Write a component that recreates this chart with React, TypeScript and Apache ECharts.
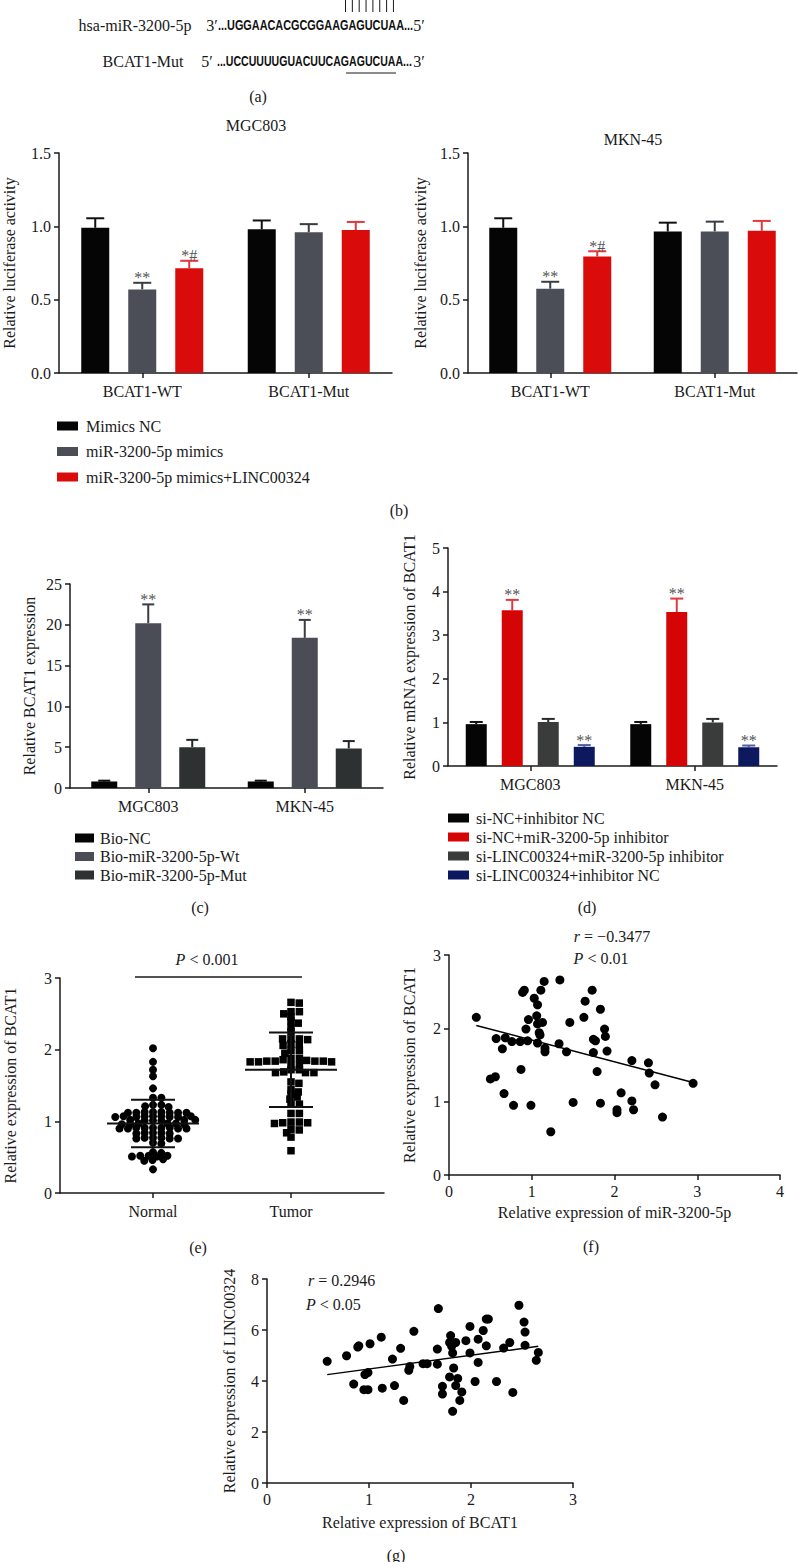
import React, { useEffect, useRef } from 'react';
import * as echarts from 'echarts';

const SERIF = "'Liberation Serif','Times New Roman',serif";
const SANS = "'Liberation Sans',Arial,sans-serif";
const INK = '#1a1a1a';

// ---------- data ----------
const bCats = ['BCAT1-WT', 'BCAT1-Mut'];
const bGroups = ['Mimics NC', 'miR-3200-5p mimics', 'miR-3200-5p mimics+LINC00324'];
const b1Vals = [[0.99, 0.98], [0.57, 0.96], [0.715, 0.975]];
const b1Err = [[1.055, 1.04], [0.615, 1.015], [0.765, 1.03]];
const b2Vals = [[0.99, 0.965], [0.575, 0.965], [0.795, 0.97]];
const b2Err = [[1.055, 1.025], [0.622, 1.032], [0.83, 1.037]];
const bSig = [['', ''], ['**', ''], ['*#', '']];

const cCats = ['MGC803', 'MKN-45'];
const cGroups = ['Bio-NC', 'Bio-miR-3200-5p-Wt', 'Bio-miR-3200-5p-Mut'];
const cVals = [[0.8, 0.8], [20.2, 18.4], [5.0, 4.85]];
const cErr = [[0.9, 0.9], [22.5, 20.6], [5.9, 5.75]];
const cSig = [['', ''], ['**', '**'], ['', '']];

const dCats = ['MGC803', 'MKN-45'];
const dGroups = ['si-NC+inhibitor NC', 'si-NC+miR-3200-5p inhibitor', 'si-LINC00324+miR-3200-5p inhibitor', 'si-LINC00324+inhibitor NC'];
const dVals = [[0.96, 0.96], [3.57, 3.53], [1.01, 1.0], [0.44, 0.43]];
const dErr = [[1.01, 1.01], [3.81, 3.84], [1.08, 1.08], [0.48, 0.47]];
const dSig = [['', ''], ['**', '**'], ['', ''], ['**', '**']];

const eCats = ['Normal', 'Tumor'];
const normalVals = [2.02, 1.83, 1.72, 1.63, 1.46, 1.33, 1.33, 1.23, 1.23, 1.20, 1.21,
  1.13, 1.12, 1.12, 1.12, 1.13, 1.12, 1.12, 1.13,
  1.07, 1.06, 1.07, 1.06, 1.07, 1.06, 1.07, 1.06, 1.07,
  1.01, 1.02, 1.01, 1.02, 1.01, 1.02,
  0.96, 0.97, 0.96, 0.97, 0.96, 0.97,
  0.91, 0.90, 0.91, 0.90, 0.91, 0.90, 0.91, 0.90, 0.91,
  0.84, 0.83, 0.84, 0.83, 0.84,
  0.76, 0.77, 0.76, 0.77, 0.76, 0.77,
  0.70, 0.69, 0.56, 0.57, 0.52, 0.51, 0.52, 0.51, 0.52, 0.46, 0.47, 0.45, 0.33];
const tumorVals = [2.65, 2.66, 2.53, 2.53, 2.50, 2.46, 2.40, 2.37, 2.31, 2.25,
  2.15, 2.15, 2.14, 2.15, 2.08, 2.07, 2.06, 1.99, 1.99, 1.95,
  1.88, 1.86, 1.84, 1.84, 1.83, 1.83, 1.83, 1.84, 1.84, 1.85, 1.88,
  1.78, 1.78, 1.72, 1.68, 1.68, 1.69, 1.68, 1.72, 1.55, 1.53,
  1.44, 1.41, 1.38, 1.34, 1.31, 1.24, 1.24, 1.11, 1.11,
  0.99, 0.98, 0.97, 0.98, 0.99, 0.89, 0.88, 0.84, 0.78, 0.59];
const eMeans = [0.97, 1.72];
const eSds = [0.33, 0.52];

const fX = [0.33, 0.50, 0.56, 0.57, 0.68, 0.645, 0.665, 0.78, 0.76, 0.86, 0.95, 0.87, 0.89, 0.91, 0.96, 0.93, 0.99, 1.03, 1.06, 1.07, 1.07, 1.09, 1.10, 1.07, 1.11, 1.15, 1.13, 1.16, 1.16, 1.23, 1.34, 1.33, 1.46, 1.42, 1.50, 1.63, 1.645, 1.73, 1.745, 1.77, 1.745, 1.79, 1.83, 1.83, 1.88, 1.89, 1.91, 2.03, 2.03, 2.08, 2.21, 2.21, 2.23, 2.41, 2.42, 2.49, 2.58, 2.95];
const fY = [2.15, 1.31, 1.34, 1.86, 1.87, 1.72, 1.11, 0.95, 1.82, 1.82, 1.83, 1.44, 2.49, 2.52, 2.12, 1.99, 0.95, 2.41, 2.17, 2.32, 2.06, 1.94, 1.91, 1.80, 2.52, 2.64, 2.08, 1.73, 1.68, 0.59, 2.66, 1.79, 2.08, 1.68, 0.99, 2.15, 2.37, 2.52, 1.85, 1.83, 1.67, 1.41, 2.26, 0.98, 1.99, 1.89, 1.69, 0.89, 0.85, 1.12, 1.56, 1.01, 0.89, 1.53, 1.39, 1.23, 0.79, 1.25];
const fFit = [[0.33, 2.04], [2.95, 1.26]];

const gX = [0.59, 0.78, 0.89, 0.90, 1.01, 1.12, 0.85, 0.95, 0.99, 0.96, 0.99, 1.13, 1.23, 1.25, 1.31, 1.34, 1.39, 1.40, 1.44, 1.53, 1.57, 1.68, 1.67, 1.67, 1.72, 1.72, 1.80, 1.79, 1.81, 1.82, 1.85, 1.83, 1.79, 1.87, 1.85, 1.82, 1.91, 1.89, 1.95, 1.99, 1.99, 2.07, 2.07, 2.04, 2.12, 2.15, 2.17, 2.15, 2.25, 2.32, 2.38, 2.41, 2.47, 2.52, 2.53, 2.53, 2.64, 2.66];
const gY = [4.77, 4.99, 5.33, 5.38, 5.46, 5.72, 3.88, 3.66, 3.66, 4.25, 4.33, 3.72, 4.86, 3.82, 5.28, 3.24, 4.42, 4.57, 5.95, 4.68, 4.68, 6.84, 5.25, 4.66, 3.79, 3.49, 5.78, 5.51, 5.36, 5.10, 5.51, 4.51, 4.16, 4.10, 3.82, 2.81, 3.57, 3.24, 5.58, 6.14, 5.10, 5.64, 4.73, 3.98, 5.98, 6.43, 6.43, 5.38, 3.98, 5.29, 5.51, 3.55, 6.97, 6.31, 5.92, 5.40, 4.81, 5.12];
const gFit = [[0.59, 4.25], [2.66, 5.36]];

// ---------- layout / style ----------
const grids = [
  { left: 57, top: 153, width: 335, height: 220 },
  { left: 468, top: 153, width: 329, height: 220 },
  { left: 70, top: 584, width: 313, height: 204 },
  { left: 448, top: 548, width: 329, height: 218 },
  { left: 60, top: 978, width: 324, height: 215 },
  { left: 449, top: 955, width: 331, height: 220 },
  { left: 267, top: 1279, width: 306, height: 204 },
];
const E_XMIN = 0.326, E_XMAX = 2.674;

const bColors = ['#050505', '#4b4e56', '#d90b0b'];
const bErrColors = ['#111111', '#3a3c42', '#e0383c'];
const cColors = ['#050505', '#4a4d55', '#2d3132'];
const dColors = ['#050505', '#d50505', '#3a3b3b', '#0c195e'];
const dErrColors = ['#111111', '#e0383c', '#2a2a2a', '#5060a0'];

const axisLine = { show: true, lineStyle: { color: INK, width: 1.5 } };
const axisTick = { show: true, length: 5, lineStyle: { color: INK, width: 1.5 } };
const lbl = { fontFamily: SERIF, fontSize: 16, color: INK };

function yAx(gi: number, min: number, max: number, interval: number, name: string, nameGap: number, dec = 0) {
  return {
    gridIndex: gi, type: 'value', min, max, interval, name, nameLocation: 'middle', nameGap,
    nameTextStyle: { ...lbl }, axisLine, axisTick,
    axisLabel: { ...lbl, margin: 8, formatter: (v: number) => v.toFixed(dec) },
    splitLine: { show: false },
  };
}
function xCat(gi: number, data: string[]) {
  return {
    gridIndex: gi, type: 'category', data, axisLine,
    axisTick: { ...axisTick, alignWithLabel: true },
    axisLabel: { ...lbl, margin: 10 }, splitLine: { show: false },
  };
}
function xVal(gi: number, min: number, max: number, interval: number, name: string, nameGap: number) {
  return {
    gridIndex: gi, type: 'value', min, max, interval, name, nameLocation: 'middle', nameGap,
    nameTextStyle: { ...lbl }, axisLine, axisTick,
    axisLabel: { ...lbl, margin: 8 }, splitLine: { show: false },
  };
}

function barGroup(ai: number, names: string[], vals: number[][], colors: string[], bw: number, gapPx: number) {
  return names.map((n, i) => ({
    type: 'bar', name: n, xAxisIndex: ai, yAxisIndex: ai, data: vals[i], barWidth: bw,
    barGap: `${(gapPx / bw) * 100}%`, itemStyle: { color: colors[i] }, z: 3, silent: true,
  }));
}
function errGroup(ai: number, vals: number[][], errs: number[][], sig: string[][], colors: string[], bw: number, gapPx: number, capHalf: number) {
  const n = vals.length;
  return vals.map((v, i) => {
    const off = (i - (n - 1) / 2) * (bw + gapPx);
    return {
      type: 'custom', xAxisIndex: ai, yAxisIndex: ai, z: 1, silent: true,
      data: v.map((val, j) => [j, val, errs[i][j]]),
      renderItem: (params: any, api: any) => {
        const j = params.dataIndex;
        const base = api.coord([j, v[j]]);
        const top = api.coord([j, errs[i][j]]);
        const x = base[0] + off;
        const children: any[] = [
          { type: 'line', shape: { x1: x, y1: base[1], x2: x, y2: top[1] }, style: { stroke: colors[i], lineWidth: 2 } },
          { type: 'line', shape: { x1: x - capHalf, y1: top[1], x2: x + capHalf, y2: top[1] }, style: { stroke: colors[i], lineWidth: 2 } },
        ];
        if (sig[i][j]) {
          children.push({ type: 'text', z2: 10, style: { text: sig[i][j], x, y: top[1] - 5, align: 'center', verticalAlign: 'middle', fontFamily: SERIF, fontSize: 16, fill: '#555' } });
        }
        return { type: 'group', children };
      },
    };
  });
}

// beeswarm layout: horizontal spacing dxMin, rows closer than dyMin are staggered
function swarm(values: number[], center: number, pxX: number, pxY: number, dxMin: number, dyMin: number) {
  const placed: { x: number; y: number }[] = [];
  const out: number[][] = [];
  const order = values.map((_, i) => i).sort((a, b) => values[b] - values[a]);
  const hit = (p: { x: number; y: number }, x: number, y: number) =>
    ((p.x - x) / dxMin) ** 2 + ((p.y - y) / dyMin) ** 2 < 0.999;
  for (const i of order) {
    const y = values[i] * pxY;
    const cands = [0];
    for (const p of placed) {
      const dy = Math.abs(p.y - y);
      if (dy < dyMin) {
        const dx = dxMin * Math.sqrt(1 - (dy / dyMin) ** 2);
        cands.push(p.x + dx, p.x - dx);
      }
    }
    cands.sort((a, b) => Math.abs(a) - Math.abs(b));
    let chosen = 0;
    for (const c of cands) {
      if (!placed.some(p => hit(p, c, y))) { chosen = c; break; }
    }
    placed.push({ x: chosen, y });
    out.push([center + chosen / pxX, values[i]]);
  }
  return out;
}

function txt(text: string, x: number, y: number, extra: any = {}, el: any = {}) {
  return {
    type: 'text', x, y, ...el,
    style: {
      text, x: 0, y: 0, fill: INK, fontFamily: SERIF, fontSize: 16,
      align: 'center', verticalAlign: 'middle', textAlign: 'center', textVerticalAlign: 'middle', ...extra,
    },
  };
}
const italicRich = { i: { fontStyle: 'italic', fontFamily: SERIF, fontSize: 16, fill: INK } };
function hline(x1: number, x2: number, y: number, w = 1.5) {
  return { type: 'line', shape: { x1, y1: y, x2, y2: y }, style: { stroke: INK, lineWidth: w } };
}

function legendAt(data: string[], left: number, top: number, iw: number, ih: number, gap: number, pad: number) {
  return {
    data, left, top, orient: 'vertical', itemWidth: iw, itemHeight: ih, itemGap: gap, padding: 0,
    icon: 'rect', selectedMode: false,
    textStyle: { fontFamily: SERIF, fontSize: 16, color: INK, lineHeight: 16, padding: [0, 0, 0, pad] },
  };
}

export default function App() {
  const ref = useRef<HTMLDivElement>(null);
  useEffect(() => {
    if (!ref.current) return;
    const chart = echarts.init(ref.current, undefined, { renderer: 'svg' });

    const eg = grids[4];
    const pxX = eg.width / (E_XMAX - E_XMIN);
    const pxY = eg.height / 3;
    const normalPts = swarm(normalVals, 1, pxX, pxY, 8.4, 4.2);
    const tumorPts = swarm(tumorVals, 2, pxX, pxY, 8.4, 4.2);

    const graphics: any[] = [];
    // panel (a)
    for (let k = 0; k < 8; k++) {
      const x = 345.5 + k * 6.85;
      graphics.push({ type: 'line', shape: { x1: x, y1: 0, x2: x, y2: 12 }, style: { stroke: INK, lineWidth: 1 } });
    }
    graphics.push(txt('hsa-miR-3200-5p', 135, 25));
    graphics.push(txt('3\u2032', 212, 25));
    graphics.push(txt('...UGGAACACGCGGAAGAGUCUAA...', 218, 25,
      { fontFamily: SANS, fontWeight: 'bold', fontSize: 15, align: 'left', textAlign: 'left', fill: '#111' }, { scaleX: 0.725 }));
    graphics.push(txt('5\u2032', 419, 25));
    graphics.push(txt('BCAT1-Mut', 143, 61));
    graphics.push(txt('5\u2032', 207, 61));
    graphics.push(txt('...UCCUUUUGUACUUCAGAGUCUAA...', 217, 61,
      { fontFamily: SANS, fontWeight: 'bold', fontSize: 15, align: 'left', textAlign: 'left', fill: '#111' }, { scaleX: 0.705 }));
    graphics.push(txt('3\u2032', 419, 61));
    graphics.push(hline(346, 396, 73, 1.2));
    graphics.push(txt('(a)', 258, 96));
    // titles and panel labels
    graphics.push(txt('MGC803', 256, 125));
    graphics.push(txt('MKN-45', 633, 139));
    graphics.push(txt('(b)', 399, 510));
    graphics.push(txt('(c)', 200, 907));
    graphics.push(txt('(d)', 587, 907));
    graphics.push(txt('(e)', 198, 1247));
    graphics.push(txt('(f)', 591, 1246));
    graphics.push(txt('(g)', 396, 1555));
    // (e) annotation
    graphics.push(hline(135, 302, 977));
    graphics.push(txt('{i|P} < 0.001', 207, 959, { rich: italicRich }));
    // (f) / (g) annotations
    graphics.push(txt('{i|r} = \u22120.3477', 612, 936, { rich: italicRich }));
    graphics.push(txt('{i|P} < 0.01', 601, 958, { rich: italicRich }));
    graphics.push(txt('{i|r} = 0.2946', 308, 1280, { rich: italicRich, align: 'left', textAlign: 'left' }));
    graphics.push(txt('{i|P} < 0.05', 306, 1304, { rich: italicRich, align: 'left', textAlign: 'left' }));

    const dot = { color: '#000', opacity: 1 };
    const series: any[] = [
      ...barGroup(0, bGroups, b1Vals, bColors, 28, 19),
      ...errGroup(0, b1Vals, b1Err, bSig, bErrColors, 28, 19, 9),
      ...barGroup(1, bGroups, b2Vals, bColors, 28, 19),
      ...errGroup(1, b2Vals, b2Err, bSig, bErrColors, 28, 19, 9),
      ...barGroup(2, cGroups, cVals, cColors, 26, 18),
      ...errGroup(2, cVals, cErr, cSig, ['#111111', '#3a3c42', '#222626'], 26, 18, 6),
      ...barGroup(3, dGroups, dVals, dColors, 21, 15),
      ...errGroup(3, dVals, dErr, dSig, dErrColors, 21, 15, 6.5),
      {
        type: 'scatter', name: 'Normal', xAxisIndex: 4, yAxisIndex: 4, data: normalPts,
        symbol: 'circle', symbolSize: 8, itemStyle: dot, silent: true,
      },
      {
        type: 'scatter', name: 'Tumor', xAxisIndex: 4, yAxisIndex: 4, data: tumorPts,
        symbol: 'rect', symbolSize: 7.5, itemStyle: dot, silent: true,
      },
      {
        type: 'custom', xAxisIndex: 4, yAxisIndex: 4, z: 5, silent: true,
        data: eMeans.map((m, i) => [i + 1, m, eSds[i]]),
        renderItem: (params: any, api: any) => {
          const i = params.dataIndex;
          const c = api.coord([i + 1, eMeans[i]]);
          const hi = api.coord([i + 1, eMeans[i] + eSds[i]]);
          const lo = api.coord([i + 1, eMeans[i] - eSds[i]]);
          const st = { stroke: '#111', lineWidth: 2 };
          return {
            type: 'group', children: [
              { type: 'line', shape: { x1: c[0] - 46, y1: c[1], x2: c[0] + 46, y2: c[1] }, style: st },
              { type: 'line', shape: { x1: c[0] - 22, y1: hi[1], x2: c[0] + 22, y2: hi[1] }, style: st },
              { type: 'line', shape: { x1: c[0] - 22, y1: lo[1], x2: c[0] + 22, y2: lo[1] }, style: st },
              { type: 'line', shape: { x1: c[0], y1: hi[1], x2: c[0], y2: lo[1] }, style: st },
            ],
          };
        },
      },
      {
        type: 'scatter', xAxisIndex: 5, yAxisIndex: 5, data: fX.map((x, i) => [x, fY[i]]),
        symbolSize: 9, itemStyle: dot, silent: true,
      },
      {
        type: 'line', xAxisIndex: 5, yAxisIndex: 5, data: fFit, showSymbol: false, symbol: 'none',
        lineStyle: { color: '#000', width: 1.5 }, silent: true, z: 4,
      },
      {
        type: 'scatter', xAxisIndex: 6, yAxisIndex: 6, data: gX.map((x, i) => [x, gY[i]]),
        symbolSize: 9, itemStyle: dot, silent: true,
      },
      {
        type: 'line', xAxisIndex: 6, yAxisIndex: 6, data: gFit, showSymbol: false, symbol: 'none',
        lineStyle: { color: '#000', width: 1.5 }, silent: true, z: 4,
      },
    ];

    const option: any = {
      animation: false,
      backgroundColor: '#ffffff',
      grid: grids.map(g => ({ ...g, containLabel: false })),
      xAxis: [
        xCat(0, bCats),
        xCat(1, bCats),
        xCat(2, cCats),
        xCat(3, dCats),
        {
          gridIndex: 4, type: 'value', min: E_XMIN, max: E_XMAX, axisLine,
          axisTick: { ...axisTick, customValues: [1, 2] },
          axisLabel: { ...lbl, margin: 10, customValues: [1, 2], formatter: (v: number) => eCats[Math.round(v) - 1] || '' },
          splitLine: { show: false },
        },
        xVal(5, 0, 4, 1, 'Relative expression of miR-3200-5p', 29),
        xVal(6, 0, 3, 1, 'Relative expression of BCAT1', 31),
      ],
      yAxis: [
        yAx(0, 0, 1.5, 0.5, 'Relative luciferase activity', 42, 1),
        yAx(1, 0, 1.5, 0.5, 'Relative luciferase activity', 40, 1),
        yAx(2, 0, 25, 5, 'Relative BCAT1 expression', 33),
        yAx(3, 0, 5, 1, 'Relative mRNA expression of BCAT1', 31),
        yAx(4, 0, 3, 1, 'Relative expression of BCAT1', 42),
        yAx(5, 0, 3, 1, 'Relative expression of BCAT1', 32),
        yAx(6, 0, 8, 2, 'Relative expression of LINC00324', 30),
      ],
      legend: [
        legendAt(bGroups, 57, 418, 21, 9, 9.5, 3),
        legendAt(cGroups, 75, 830, 19, 9, 2.5, 1),
        legendAt(dGroups, 448, 810, 21, 9, 3, 2),
      ],
      graphic: graphics,
      series,
    };
    chart.setOption(option);
    return () => chart.dispose();
  }, []);
  return (
    <div
      ref={ref}
      style={{ position: 'absolute', left: 0, top: 0, width: 799, height: 1562, background: '#fff' }}
    />
  );
}
